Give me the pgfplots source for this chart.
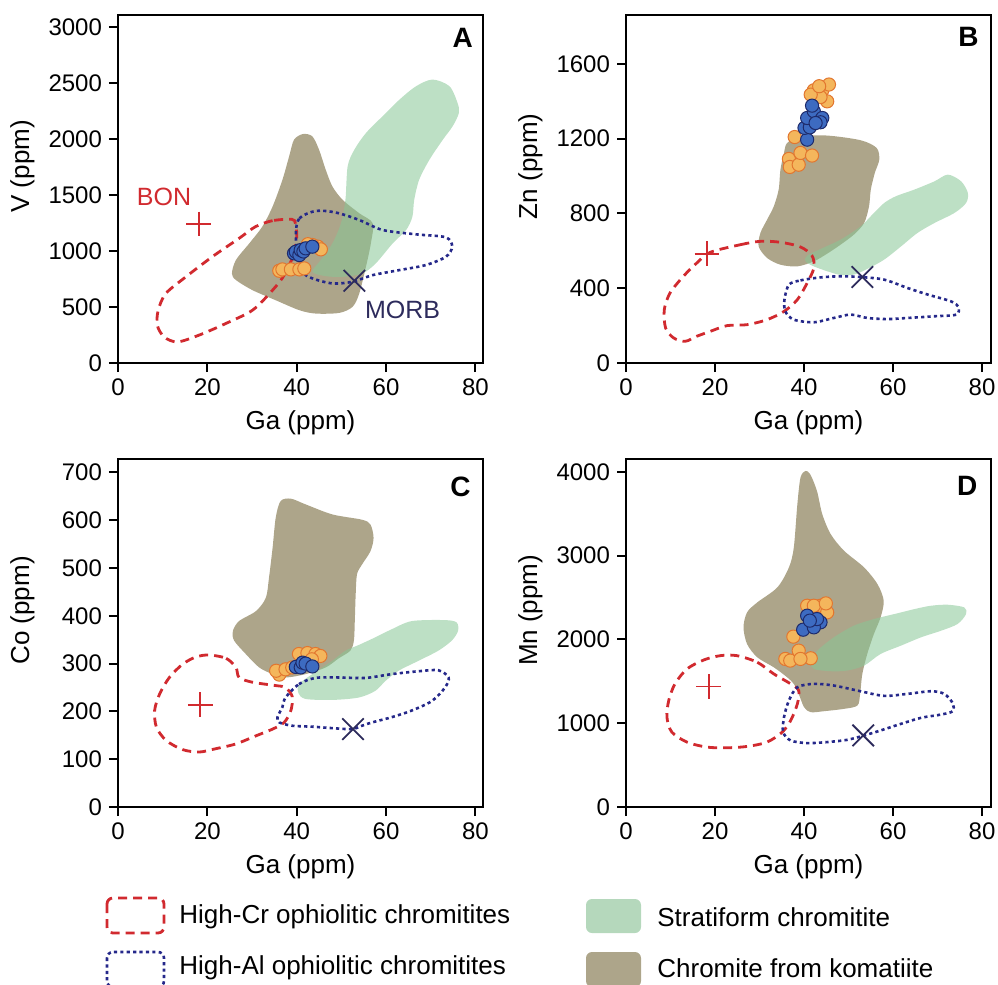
\documentclass[border=0pt]{standalone}
\usepackage{pgfplots}
\pgfplotsset{compat=1.18}
\usepackage{fontspec}
\setmainfont{Liberation Sans}

\definecolor{komfill}{HTML}{ADA58A}
\definecolor{strafill}{RGB}{135,199,150}
\definecolor{strakey}{HTML}{B5D8BC}
\definecolor{crred}{HTML}{D12A2F}
\definecolor{alblue}{HTML}{25288A}
\definecolor{morbnavy}{HTML}{2D2B5C}
\definecolor{orfill}{HTML}{F4B65C}
\definecolor{oredge}{HTML}{E2762F}
\definecolor{blfill}{HTML}{3D6BC1}
\definecolor{bledge}{HTML}{1E2B6B}

\tikzset{letter/.style={anchor=north east, inner sep=0pt, font=\bfseries\fontsize{14}{16}\selectfont}}

\pgfplotsset{
  panel/.style={
    scale only axis, width=182.5pt, height=174pt, anchor=south west,
    xmin=0, xmax=81.7, xtick={0,20,...,80}, ymin=0,
    axis line style={line width=1pt}, tick style={line width=1pt, black},
    major tick length=4.5pt, tick align=outside, xtick pos=bottom, ytick pos=left,
    ticklabel style={font=\fontsize{12}{14}\selectfont},
    /pgf/number format/assume math mode=true, scaled ticks=false,
    /pgf/number format/1000 sep={},
    xlabel={Ga (ppm)}, label style={font=\fontsize{13}{15}\selectfont},
    xlabel style={at={(axis description cs:0.5,-0.135)}, anchor=north, inner sep=0pt},
    ylabel style={at={(axis description cs:-0.262,0.565)}, anchor=center},
    clip=false,
  },
  kom/.style={smooth cycle, draw=none, fill=komfill},
  stra/.style={smooth cycle, draw=none, fill=strafill, fill opacity=0.55},
  hicr/.style={smooth cycle, draw=crred, line width=1.4pt, dash pattern=on 4.5pt off 3pt},
  hial/.style={smooth cycle, draw=alblue, line width=1.3pt, dash pattern=on 1.6pt off 1.6pt},
  bon/.style={only marks, mark=+, mark size=6.2pt, mark options={draw=crred, line width=0.9pt}},
  morb/.style={only marks, mark=x, mark size=7.6pt, mark options={draw=morbnavy, line width=0.9pt}},
  orpts/.style={only marks, mark=*, mark size=3.3pt, mark options={fill=orfill, draw=oredge, line width=0.5pt}},
  blpts/.style={only marks, mark=*, mark size=3.3pt, mark options={fill=blfill, draw=bledge, line width=0.5pt}},
}

\begin{document}
\begin{tikzpicture}
\useasboundingbox (0,0) rectangle (499pt,-492.5pt);

% ---- A: V vs Ga
\begin{axis}[panel, at={(59pt,-181.5pt)}, ymax=3105, ytick={0,500,...,3000}, ylabel={V (ppm)}]
  \addplot[kom] coordinates {(41.4,2043)(39.4,1992)(38.3,1843)(36.8,1634)(34.6,1396)(32.3,1217)(29.4,1068)(26.4,919)(25.5,799)(26.4,740)(30.1,650)(35.3,560)(40.6,471)(44.3,441)(49.5,447)(52.5,501)(54.0,620)(55.5,859)(56.6,1068)(57.0,1247)(54.0,1336)(50.3,1455)(48.0,1575)(46.5,1724)(45.0,1903)(43.5,2022)};
  \addplot[stra] coordinates {(70.4,2529)(74.2,2469)(76.0,2320)(76.3,2231)(74.9,2112)(72.7,1992)(69.7,1813)(67.4,1634)(66.3,1455)(65.9,1306)(64.5,1187)(61.5,1068)(57.7,889)(54.7,799)(50.3,769)(46.5,775)(43.5,814)(45.4,919)(48.0,1068)(49.9,1247)(50.9,1455)(51.4,1754)(52.9,1903)(55.5,2052)(59.2,2201)(63.0,2350)(66.7,2469)};
  \addplot[hicr] coordinates {(38.9,1282)(34.6,1270)(30.8,1217)(27.1,1112)(21.1,948)(15.2,769)(10.7,620)(9.0,471)(8.8,337)(10.3,233)(13.3,188)(18.1,248)(24.1,352)(30.1,471)(34.6,650)(37.2,784)(39.1,948)(40.0,1127)(39.7,1247)};
  \addplot[hial] coordinates {(39.8,1157)(40.6,1291)(44.3,1357)(48.8,1342)(54.0,1276)(59.2,1187)(66.7,1148)(73.4,1121)(74.8,1038)(73.4,948)(68.9,874)(63.0,829)(57.0,784)(52.5,725)(48.0,710)(43.5,755)(41.3,814)(40.2,978)};
  \addplot[bon] coordinates {(18.1,1241)};
  \addplot[morb] coordinates {(52.9,734)};
  \addplot[orpts] coordinates {(36.1,823)(36.8,835)(38.7,835)(40.6,835)(41.7,844)(44.7,1038)(45.4,1014)(43.5,1053)(42.5,1060)};
  \addplot[blpts] coordinates {(39.4,978)(39.8,993)(40.6,963)(40.9,1008)(41.5,995)(42.0,1023)(43.5,1038)};
  \node[text=crred, font=\fontsize{12.5}{14}\selectfont] at (axis cs:10.3,1485) {BON};
  \node[text=morbnavy, font=\fontsize{12.5}{14}\selectfont] at (axis cs:63.7,477) {MORB};
  \node[letter] at (rel axis cs:0.973,0.963) {A};
\end{axis}

% ---- B: Zn vs Ga
\begin{axis}[panel, at={(313pt,-181.5pt)}, xmax=82, ymax=1862, ytick={0,400,...,1600}, ylabel={Zn (ppm)}]
  \addplot[kom] coordinates {(36.2,1177)(39.2,1213)(45.2,1217)(52.7,1192)(56.3,1151)(56.9,1088)(55.9,1017)(55.0,928)(54.6,838)(53.5,749)(51.2,687)(48.2,633)(45.2,585)(42.2,544)(38.5,517)(34.7,526)(31.7,562)(29.8,624)(30.2,696)(31.7,767)(33.2,838)(34.3,928)(34.7,1035)(35.5,1124)};
  \addplot[stra] coordinates {(72.3,1008)(75.3,972)(76.8,910)(76.4,856)(73.8,803)(69.3,749)(65.5,696)(61.8,624)(58.0,553)(54.2,503)(51.2,473)(48.2,471)(45.2,491)(42.2,517)(40.3,544)(40.7,574)(43.7,610)(48.2,660)(52.7,731)(55.7,803)(58.0,856)(60.6,892)(64.8,928)(69.3,972)};
  \addplot[hicr] coordinates {(18.9,592)(25.7,633)(30.2,651)(34.7,646)(39.2,621)(41.8,574)(42.2,508)(40.7,428)(38.5,339)(35.5,276)(31.7,232)(27.2,205)(22.7,200)(18.9,169)(15.9,143)(13.3,116)(10.7,134)(8.9,187)(8.6,285)(9.9,375)(12.9,464)(15.9,535)};
  \addplot[hial] coordinates {(36.6,419)(39.2,442)(43.7,458)(48.2,464)(52.7,460)(58.0,446)(63.3,401)(67.8,366)(73.0,330)(74.7,300)(74.2,259)(69.3,250)(63.3,241)(58.8,235)(54.2,241)(50.5,259)(46.7,241)(42.2,218)(37.7,232)(35.8,276)(35.6,339)};
  \addplot[bon] coordinates {(18.2,585)};
  \addplot[morb] coordinates {(53.1,460)};
  \addplot[orpts] coordinates {(36.6,1092)(36.8,1049)(38.8,1061)(39.2,1124)(41.8,1110)(37.9,1209)(42.2,1459)(44.1,1459)(45.6,1490)(45.2,1400)(43.7,1423)(41.5,1436)(43.4,1481)};
  \addplot[blpts] coordinates {(40.7,1195)(40.1,1258)(41.3,1261)(40.7,1311)(42.2,1347)(41.8,1377)(44.1,1311)(43.7,1288)(42.6,1284)};
  \node[letter] at (rel axis cs:0.967,0.966) {B};
\end{axis}

% ---- C: Co vs Ga
\begin{axis}[panel, at={(59pt,-403.5pt)}, ymax=728, ytick={0,100,...,700}, ylabel={Co (ppm)}]
  \addplot[kom] coordinates {(36.4,640)(38.7,645)(42.0,633)(48.0,612)(54.6,601)(56.5,591)(57.2,563)(56.5,535)(54.6,507)(53.5,487)(53.2,445)(53.0,389)(52.8,348)(52.0,327)(49.4,311)(46.5,292)(42.0,278)(37.5,271)(34.6,278)(31.6,292)(28.6,320)(26.0,348)(25.7,368)(27.1,389)(30.9,410)(33.1,438)(33.8,480)(34.6,542)(35.3,605)};
  \addplot[stra] coordinates {(65.8,389)(73.2,391)(75.8,386)(76.1,368)(74.7,348)(71.7,327)(67.3,306)(62.8,285)(59.9,264)(57.6,243)(53.9,229)(48.0,224)(42.0,226)(40.4,238)(40.5,257)(43.5,278)(48.0,306)(50.9,327)(53.9,339)(57.6,355)(61.3,372)};
  \addplot[hicr] coordinates {(20.4,318)(24.2,311)(26.4,292)(27.1,271)(30.1,261)(35.3,254)(37.5,250)(39.0,231)(38.7,202)(37.2,177)(34.6,163)(30.9,149)(26.4,132)(21.9,122)(18.2,115)(14.5,120)(10.8,139)(8.6,167)(8.2,202)(9.3,236)(11.5,271)(14.5,299)(17.5,314)};
  \addplot[hial] coordinates {(37.5,229)(40.5,257)(44.2,270)(49.4,271)(55.4,270)(61.3,278)(67.3,284)(71.7,286)(74.0,271)(73.2,250)(70.3,222)(65.8,202)(61.3,188)(56.9,177)(54.6,170)(52.4,163)(47.9,165)(43.5,168)(39.0,170)(36.1,177)(35.7,188)(36.8,209)};
  \addplot[bon] coordinates {(18.4,214)};
  \addplot[morb] coordinates {(52.6,163)};
  \addplot[orpts] coordinates {(36.1,277)(35.4,285)(37.5,288)(39.0,292)(40.5,320)(42.4,322)(44.2,320)(45.3,316)(43.4,309)};
  \addplot[blpts] coordinates {(39.8,293)(40.9,292)(41.3,302)(42.0,300)(43.5,294)};
  \node[letter] at (rel axis cs:0.967,0.951) {C};
\end{axis}

% ---- D: Mn vs Ga
\begin{axis}[panel, at={(313pt,-403.5pt)}, xmax=82, ymax=4155, ytick={0,1000,...,4000}, ylabel={Mn (ppm)}]
  \addplot[kom] coordinates {(40.3,4012)(41.4,3972)(42.9,3774)(44.1,3496)(46.0,3257)(49.0,3059)(53.5,2860)(56.5,2661)(57.9,2463)(57.2,2264)(55.7,2066)(54.2,1827)(53.1,1589)(52.6,1351)(52.0,1212)(49.0,1172)(44.5,1144)(41.5,1132)(40.0,1192)(38.8,1351)(37.7,1470)(36.2,1549)(33.2,1668)(29.5,1787)(27.2,1946)(26.4,2145)(27.2,2324)(29.5,2443)(34.0,2622)(36.6,2860)(37.7,3098)(38.5,3615)(39.2,3932)};
  \addplot[stra] coordinates {(72.3,2415)(76.0,2383)(76.4,2304)(74.5,2185)(70.8,2105)(66.3,2026)(61.8,1927)(57.2,1827)(53.5,1688)(49.7,1629)(46.0,1621)(42.2,1648)(41.5,1728)(43.0,1867)(46.7,2026)(51.2,2165)(55.7,2244)(60.3,2304)(64.8,2363)(68.5,2403)};
  \addplot[hicr] coordinates {(24.9,1807)(29.5,1728)(33.2,1589)(37.0,1470)(38.8,1390)(38.5,1231)(37.0,1033)(35.1,894)(31.7,775)(27.2,723)(22.7,707)(18.2,715)(13.7,775)(10.3,894)(9.2,1072)(9.6,1271)(11.0,1470)(13.7,1648)(17.5,1756)(21.2,1807)};
  \addplot[hial] coordinates {(38.5,1430)(42.2,1470)(46.7,1450)(52.7,1382)(58.0,1327)(63.3,1351)(68.5,1382)(71.5,1351)(73.4,1239)(73.4,1144)(70.8,1104)(66.3,1065)(61.8,993)(57.2,914)(53.5,854)(49.7,802)(45.2,775)(40.7,763)(37.0,794)(35.3,894)(35.5,1072)(36.6,1271)};
  \addplot[bon] coordinates {(18.6,1438)};
  \addplot[morb] coordinates {(53.3,854)};
  \addplot[orpts] coordinates {(35.8,1768)(36.9,1748)(38.8,1867)(41.5,1776)(39.2,1768)(37.6,2034)(40.7,2403)(43.7,2403)(45.2,2324)(42.2,2403)(44.9,2431)};
  \addplot[blpts] coordinates {(39.8,2117)(40.7,2284)(43.7,2205)(42.2,2145)(42.9,2244)(41.3,2225)};
  \node[letter] at (rel axis cs:0.964,0.951) {D};
\end{axis}

% ---- key
\begin{scope}[font=\fontsize{13}{15}\selectfont]
  \draw[crred, line width=1.4pt, dash pattern=on 4.5pt off 3pt, rounded corners=3pt] (53.5pt,-449pt) rectangle (82pt,-466.5pt);
  \node[anchor=west, inner sep=0pt] at (89.5pt,-458.5pt) {High-Cr ophiolitic chromitites};
  \draw[alblue, line width=1.3pt, dash pattern=on 1.6pt off 1.6pt, rounded corners=3pt] (53.5pt,-476pt) rectangle (82pt,-493.5pt);
  \node[anchor=west, inner sep=0pt] at (89.5pt,-484pt) {High-Al ophiolitic chromitites};
  \fill[strakey, rounded corners=3pt] (293pt,-449.5pt) rectangle (320.5pt,-466.5pt);
  \node[anchor=west, inner sep=0pt] at (328.5pt,-458.5pt) {Stratiform chromitite};
  \fill[komfill, rounded corners=3pt] (293pt,-476pt) rectangle (320.5pt,-493.5pt);
  \node[anchor=west, inner sep=0pt] at (328.5pt,-484pt) {Chromite from komatiite};
\end{scope}
\end{tikzpicture}
\end{document}
